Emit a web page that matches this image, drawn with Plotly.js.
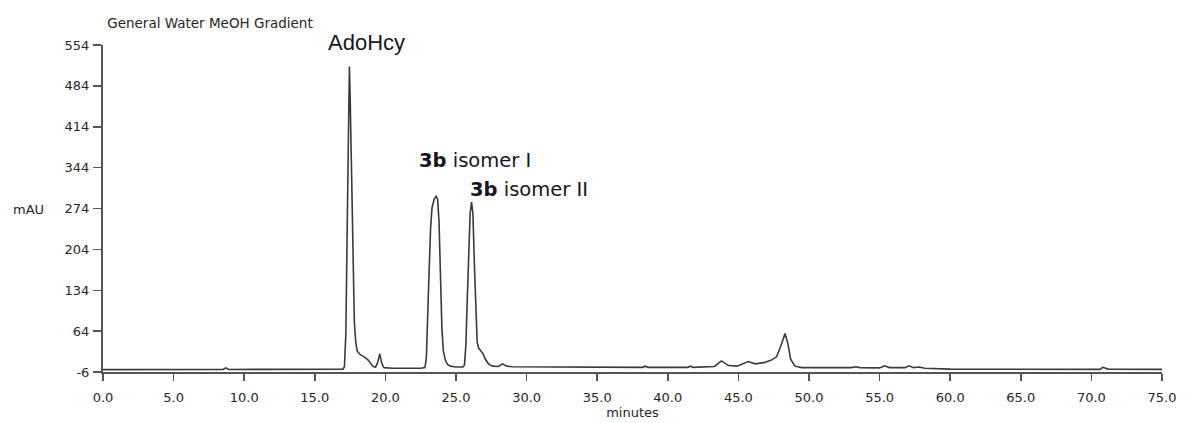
<!DOCTYPE html>
<html>
<head>
<meta charset="utf-8">
<script src="https://cdn.plot.ly/plotly-3.0.1.min.js"></script>
<style>html,body{margin:0;padding:0;background:#fff;}#chart{width:1189px;height:423px;}</style>
</head>
<body>
<div id="chart"></div>
<script>
// Retention time (minutes)
var minutes = [
  0.0, 5.0, 8.5, 8.7, 8.9, 12.0, 15.0, 16.0, 17.0,
  17.1, 17.2, 17.3, 17.4, 17.45, 17.5, 17.6, 17.7, 17.8, 17.9,
  18.0, 18.2, 18.5, 18.8, 19.1, 19.3, 19.45, 19.6, 19.75, 19.9,
  20.5, 22.5, 22.8, 22.9, 23.0, 23.1, 23.2, 23.3, 23.45, 23.6,
  23.7, 23.8, 23.9, 24.0, 24.1, 24.25, 24.4, 24.6, 25.0, 25.5,
  25.6, 25.7, 25.8, 25.9, 26.0, 26.1, 26.2, 26.3, 26.4, 26.5,
  26.6, 26.8, 26.9, 27.1, 27.3, 27.6, 28.0, 28.3, 28.6, 29.0,
  32.0, 35.0, 38.2, 38.4, 38.6, 41.4, 41.6, 41.8, 43.3, 43.8,
  44.3, 44.9, 45.2, 45.7, 46.2, 46.8, 47.3, 47.7, 48.0, 48.3,
  48.5, 48.7, 49.0, 49.5, 53.0, 53.3, 53.6, 55.0, 55.35, 55.7,
  56.8, 57.1, 57.4, 57.8, 58.2, 60.0, 70.6, 70.8, 71.2, 75.0
];
// Absorbance (mAU)
var mAU = [
  -2, -2, -1.8, 1, -1.7, -1.5, -1.2, -1, -1,
  3, 60, 250, 470, 517, 470, 330, 170, 80, 45,
  30, 24, 20, 14, 4, 2, 10, 25, 8, 1.5,
  0.5, 0.5, 1.5, 18, 80, 170, 240, 275, 290, 295,
  290, 250, 160, 70, 30, 14, 7, 4, 2.5, 2.5,
  6, 40, 120, 210, 265, 285, 265, 180, 90, 45,
  35, 30, 26, 15, 8, 4, 3.5, 8, 4, 3,
  2.5, 2, 2, 4, 2, 2, 4, 2, 3.5, 13,
  5, 4, 7, 12, 8, 10, 14, 20, 38, 60,
  43, 16, 4, 1.5, 1.5, 3, 1.5, 1, 4.5, 1.5,
  1.5, 4.5, 1.5, 2.5, 0.5, -1, -1.5, 2, -1, -1.5
];
var yTicks = [-6, 64, 134, 204, 274, 344, 414, 484, 554];
var yTickText = ["-6", "64", "134", "204", "274", "344", "414", "484", "554"];
var xTicks = [0, 5, 10, 15, 20, 25, 30, 35, 40, 45, 50, 55, 60, 65, 70, 75];
var xTickText = ["0.0","5.0","10.0","15.0","20.0","25.0","30.0","35.0","40.0","45.0","50.0","55.0","60.0","65.0","70.0","75.0"];
var peakLabels = ["<b>3b</b> isomer I", "<b>3b</b> isomer II"];
var peakLabelX = [26.38, 30.15];
var peakLabelY = [357, 307];

var tickFont = {family: "DejaVu Sans", size: 13, color: "#262626"};

var annotations = peakLabels.map(function(t, i) {
  return {text: t, x: peakLabelX[i], y: peakLabelY[i], xref: "x", yref: "y",
    showarrow: false, xanchor: "center", yanchor: "middle",
    font: {family: "DejaVu Sans", size: 19.5, color: "#161622"}};
});
annotations.push({text: "AdoHcy", xref: "paper", yref: "paper", x: 0.249, y: 1.009,
  showarrow: false, xanchor: "center", yanchor: "middle",
  font: {family: "Liberation Sans, Arial", size: 22, color: "#161622"}});
annotations.push({text: "mAU", xref: "paper", yref: "paper", x: -0.0702, y: 0.498,
  showarrow: false, xanchor: "center", yanchor: "middle", font: tickFont});

Plotly.newPlot("chart", [{
  x: minutes, y: mAU, type: "scatter", mode: "lines",
  line: {color: "#3a3a3a", width: 1.6}, hoverinfo: "skip"
}], {
  width: 1189, height: 423,
  margin: {l: 103, r: 27, t: 45, b: 51, pad: 0},
  paper_bgcolor: "#fff", plot_bgcolor: "#fff",
  showlegend: false,
  title: {text: "General Water MeOH Gradient", xref: "paper", x: 0.004, xanchor: "left",
    yref: "container", y: 0.946, yanchor: "middle",
    font: {family: "DejaVu Sans", size: 13.5, color: "#262626"}},
  xaxis: {range: [0, 75], tickvals: xTicks, ticktext: xTickText, ticks: "outside",
    ticklen: 7, tickwidth: 1.5, tickcolor: "#555", showline: true, linecolor: "#555",
    linewidth: 2, showgrid: false, zeroline: false, tickfont: tickFont, ticklabelstandoff: 5,
    title: {text: "minutes", font: {family: "DejaVu Sans", size: 13, color: "#262626"}, standoff: 4}},
  yaxis: {range: [-6, 554], tickvals: yTicks, ticktext: yTickText, ticks: "outside", ticklen: 8,
    tickwidth: 1.5, tickcolor: "#555", showline: true, linecolor: "#555", linewidth: 2,
    showgrid: false, zeroline: false, tickfont: tickFont, ticklabelstandoff: 1},
  annotations: annotations
}, {displayModeBar: false, staticPlot: true});
</script>
</body>
</html>
